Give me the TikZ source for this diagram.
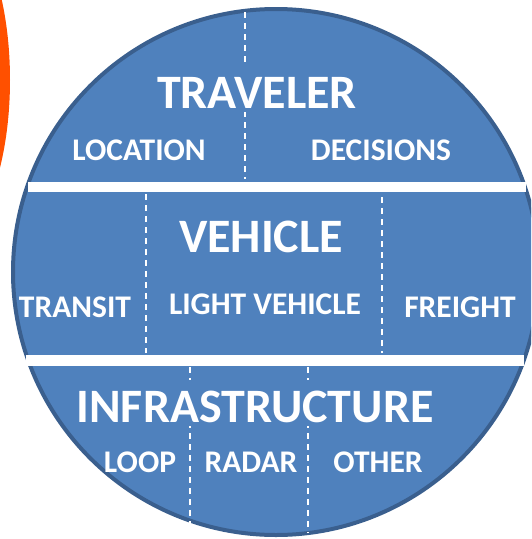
\documentclass[tikz,border=0pt]{standalone}
\usepackage{fontspec}
\setmainfont{Carlito}
\usetikzlibrary{positioning}

\definecolor{discblue}{HTML}{4F81BD}
\definecolor{discedge}{HTML}{3A5F8E}
\definecolor{sunorange}{HTML}{FF5000}

\tikzset{
  title/.style={anchor=base,text=white,fill=discblue,inner xsep=1pt,inner ysep=0pt,
    text height=42pt,text depth=4pt,font=\bfseries\fontsize{48}{48}\selectfont},
  label/.style={anchor=base,text=white,inner sep=0pt,font=\bfseries\fontsize{31.5}{31.5}\selectfont},
  split/.style={white,line width=2pt,dash pattern=on 6pt off 5pt},
  band/.style={fill=white,draw=none}
}

\begin{document}
\begin{tikzpicture}[x=1pt,y=-1pt]
\useasboundingbox (0,0) rectangle (531,539);
\clip (0,0) rectangle (531,539);

\fill[sunorange] (-60,80) ellipse [x radius=70,y radius=170];

\draw[fill=discblue,draw=discedge,line width=4pt] (276,272) circle [radius=263];

\fill[band] (28,182) rectangle (526,192);
\fill[band] (26,355) rectangle (524,366);

% sections
\draw[split] (245,12) -- (245,179);
\draw[split] (146,194) -- (146,353);
\draw[split] (382,197) -- (382,353);
\draw[split] (190,367) -- (190,531);
\draw[split] (308,367) -- (308,533);

\node[title] (traveler) at (257,108) {TRAVELER};
\node[label] (location) at (139,160) {LOCATION};
\node[label] (decisions) at (381,160) {DECISIONS};

\node[title] (vehicle) at (261,252) {VEHICLE};
\node[label] (transit) at (75,317) {TRANSIT};
\node[label] (light) at (265,314) {LIGHT VEHICLE};
\node[label] (freight) at (460,317) {FREIGHT};

\node[title] (infra) at (255,422) {INFRASTRUCTURE};
\node[label] (loop) at (140,472) {LOOP};
\node[label] (radar) at (251,472) {RADAR};
\node[label] (other) at (378,472) {OTHER};

\end{tikzpicture}
\end{document}
